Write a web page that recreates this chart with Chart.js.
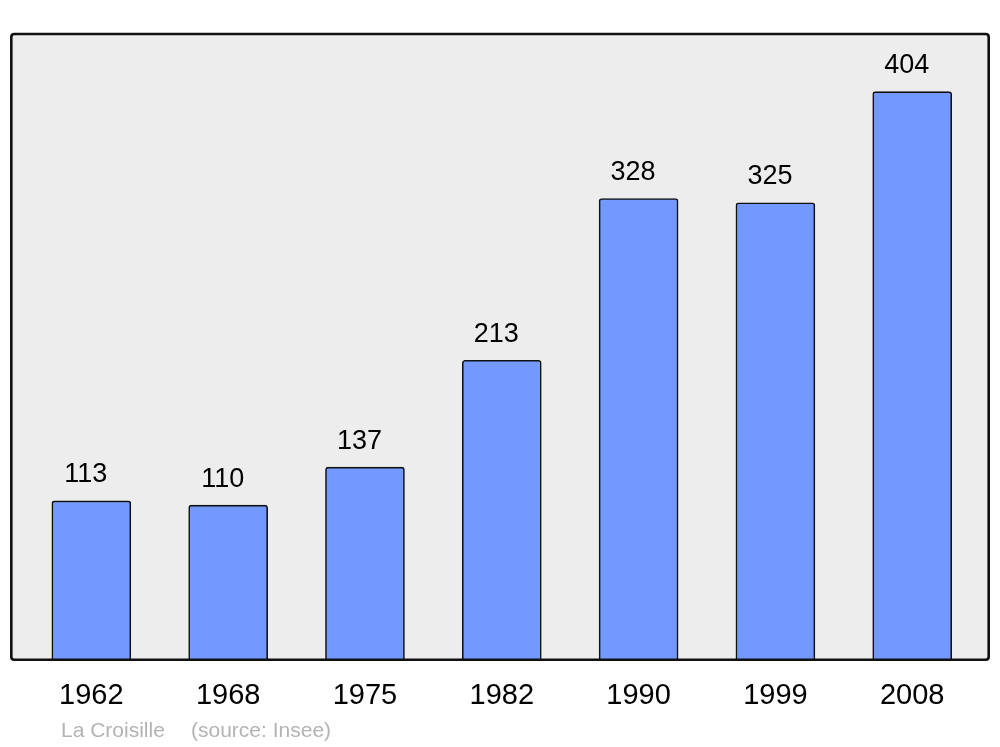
<!DOCTYPE html>
<html>
<head>
<meta charset="utf-8">
<script src="https://cdn.jsdelivr.net/npm/chart.js@4"></script>
<style>
  html, body { margin: 0; padding: 0; background: #fff; }
  #wrap { width: 1000px; height: 747px; position: relative; }
</style>
</head>
<body>
<div id="wrap"><canvas id="popChart" width="1000" height="747"></canvas></div>
<script>
// Data
const years = ['1962', '1968', '1975', '1982', '1990', '1999', '2008'];
const population = [113, 110, 137, 213, 328, 325, 404];
const townName = 'La Croisille';
const sourceText = '(source: Insee)';

const FONT = '"Liberation Sans", Arial, sans-serif';

// Grey plot box with rounded corners
function roundRect(ctx, x, y, w, h, r) {
  ctx.beginPath();
  ctx.moveTo(x + r, y);
  ctx.lineTo(x + w - r, y);
  ctx.quadraticCurveTo(x + w, y, x + w, y + r);
  ctx.lineTo(x + w, y + h - r);
  ctx.quadraticCurveTo(x + w, y + h, x + w - r, y + h);
  ctx.lineTo(x + r, y + h);
  ctx.quadraticCurveTo(x, y + h, x, y + h - r);
  ctx.lineTo(x, y + r);
  ctx.quadraticCurveTo(x, y, x + r, y);
  ctx.closePath();
}

const plotBox = {
  id: 'plotBox',
  beforeDraw(chart) {
    const { ctx, chartArea: a } = chart;
    ctx.save();
    roundRect(ctx, a.left, a.top, a.right - a.left, a.bottom - a.top, 3);
    ctx.fillStyle = '#ededed';
    ctx.fill();
    ctx.restore();
  },
  afterDatasetsDraw(chart) {
    const { ctx, chartArea: a } = chart;
    ctx.save();
    roundRect(ctx, a.left, a.top, a.right - a.left, a.bottom - a.top, 3);
    ctx.lineWidth = 2.6;
    ctx.strokeStyle = '#111';
    ctx.stroke();

    // value labels above bars
    const meta = chart.getDatasetMeta(0);
    ctx.fillStyle = '#000';
    ctx.font = '27px ' + FONT;
    ctx.textAlign = 'center';
    ctx.textBaseline = 'alphabetic';
    meta.data.forEach((bar, i) => {
      ctx.fillText(String(population[i]), bar.x - 5.5, bar.y - 18.5);
    });
    ctx.restore();
  },
  afterDraw(chart) {
    const ctx = chart.ctx;
    ctx.save();
    ctx.fillStyle = '#b3b3b3';
    ctx.font = '21px ' + FONT;
    ctx.textAlign = 'left';
    ctx.textBaseline = 'alphabetic';
    ctx.fillText(townName, 61, 737);
    ctx.fillText(sourceText, 191, 737);
    ctx.restore();
  }
};

new Chart(document.getElementById('popChart'), {
  type: 'bar',
  data: {
    datasets: [{
      data: years.map((y, i) => ({ x: i, y: population[i] })),
      backgroundColor: '#7399ff',
      borderColor: '#111',
      borderWidth: 1.6,
      borderRadius: 3,
      barThickness: 79
    }]
  },
  options: {
    responsive: false,
    animation: false,
    layout: { padding: { left: 11.3, right: 11.3, top: 34, bottom: 0 } },
    plugins: { legend: { display: false }, tooltip: { enabled: false } },
    scales: {
      x: {
        type: 'linear',
        offset: false,
        min: -0.585,
        max: 6.559,
        grid: { display: false, drawTicks: false, offset: false },
        border: { display: false },
        afterBuildTicks: s => { s.ticks = years.map((y, i) => ({ value: i })); },
        afterFit: s => { s.height = 87.2; },
        ticks: {
          padding: 19,
          color: '#000',
          font: { family: FONT, size: 29 },
          maxRotation: 0,
          autoSkip: false,
          callback: v => years[v]
        }
      },
      y: {
        display: false,
        min: 0,
        max: 445
      }
    }
  },
  plugins: [plotBox]
});
</script>
</body>
</html>
